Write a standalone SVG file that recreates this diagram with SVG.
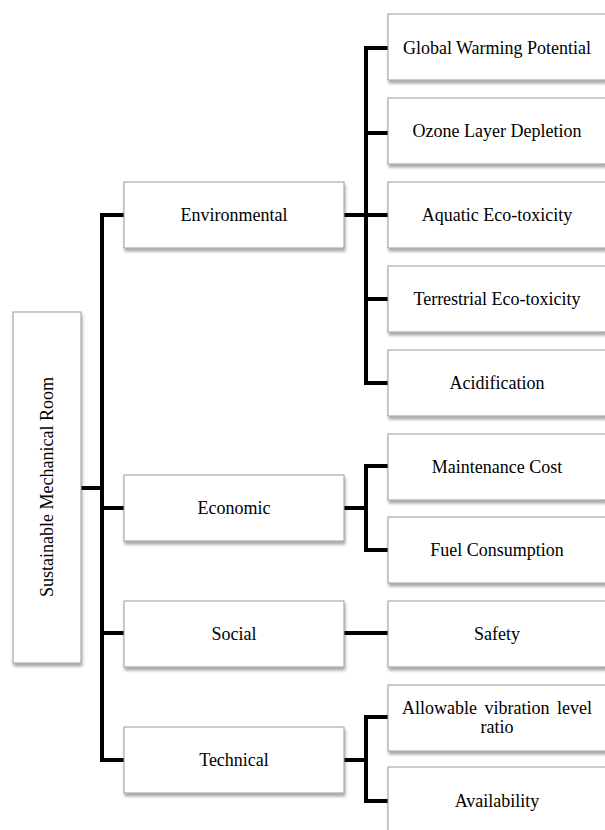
<svg xmlns="http://www.w3.org/2000/svg" width="605" height="830" viewBox="0 0 605 830">
<defs>
<filter id="sh" x="-10%" y="-10%" width="130%" height="140%">
<feDropShadow dx="1" dy="3" stdDeviation="1.5" flood-color="#000" flood-opacity="0.35"/>
</filter>
</defs>
<style>
.box{fill:#fff;stroke:#9a9a9a;stroke-width:1;filter:url(#sh)}
.c{fill:none;stroke:#000;stroke-width:4;stroke-linejoin:miter;stroke-linecap:butt}
</style>
<rect width="605" height="830" fill="#fff"/>
<g id="connectors">
<path class="c" d="M81,488 H102"/>
<path class="c" d="M124,215 H102 V760 H124"/>
<path class="c" d="M102,508 H124"/>
<path class="c" d="M102,633 H124"/>
<path class="c" d="M344,215 H388"/>
<path class="c" d="M388,48 H366 V383 H388"/>
<path class="c" d="M366,133 H388"/>
<path class="c" d="M366,299 H388"/>
<path class="c" d="M344,508 H366"/>
<path class="c" d="M388,466 H366 V550 H388"/>
<path class="c" d="M344,633 H388"/>
<path class="c" d="M344,760 H366"/>
<path class="c" d="M388,717 H366 V801 H388"/>
</g>
<g id="boxes">
<rect class="box" x="13" y="312" width="68" height="351"/>
<rect class="box" x="124" y="182" width="220" height="66"/>
<rect class="box" x="124" y="475" width="220" height="66"/>
<rect class="box" x="124" y="601" width="220" height="66"/>
<rect class="box" x="124" y="727" width="220" height="66"/>
<rect class="box" x="388" y="14" width="218" height="66"/>
<rect class="box" x="388" y="98" width="218" height="66"/>
<rect class="box" x="388" y="182" width="218" height="66"/>
<rect class="box" x="388" y="266" width="218" height="66"/>
<rect class="box" x="388" y="350" width="218" height="66"/>
<rect class="box" x="388" y="434" width="218" height="66"/>
<rect class="box" x="388" y="517" width="218" height="66"/>
<rect class="box" x="388" y="601" width="218" height="66"/>
<rect class="box" x="388" y="685" width="218" height="66"/>
<rect class="box" x="388" y="767" width="218" height="75"/>
</g>
<g id="labels" font-family="Liberation Serif" font-size="18" text-anchor="middle" fill="#000">
<text id="root" transform="translate(53,487) rotate(-90)">Sustainable Mechanical Room</text>
<text id="environmental" x="234" y="221">Environmental</text>
<text id="economic" x="234" y="514">Economic</text>
<text id="social" x="234" y="640">Social</text>
<text id="technical" x="234" y="766">Technical</text>
<text id="gwp" x="497" y="54">Global Warming Potential</text>
<text id="ozone" x="497" y="137">Ozone Layer Depletion</text>
<text id="aquatic" x="497" y="221">Aquatic Eco-toxicity</text>
<text id="terrestrial" x="497" y="305">Terrestrial Eco-toxicity</text>
<text id="acidification" x="497" y="389">Acidification</text>
<text id="maintenance" x="497" y="473">Maintenance Cost</text>
<text id="fuel" x="497" y="556">Fuel Consumption</text>
<text id="safety" x="497" y="640">Safety</text>
<text id="vibration" x="497" y="714" word-spacing="3">Allowable vibration level</text>
<text id="vibration2" x="497" y="733">ratio</text>
<text id="availability" x="497" y="807">Availability</text>
</g>
</svg>
